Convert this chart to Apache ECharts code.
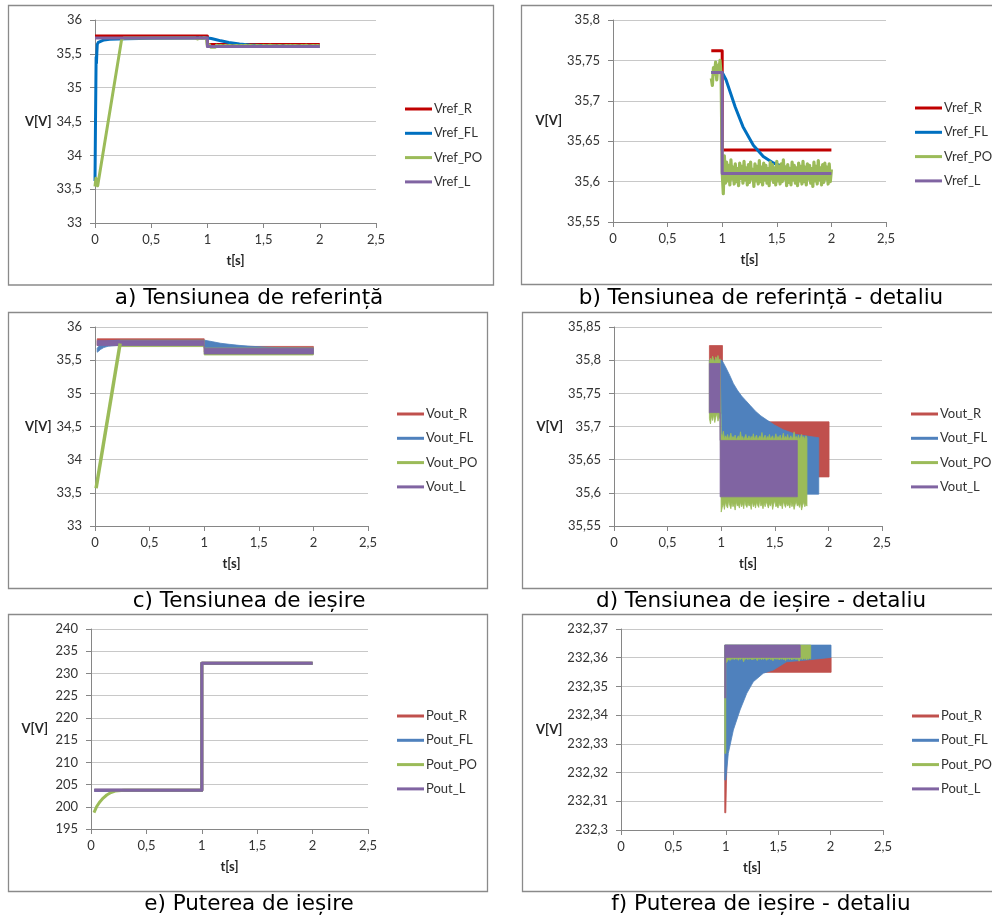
<!DOCTYPE html>
<html>
<head>
<meta charset="utf-8">
<title>Tensiuni și puteri</title>
<script src="https://cdn.jsdelivr.net/npm/echarts@6.0.0/dist/echarts.min.js"></script>
<style>
  html, body { margin: 0; padding: 0; background: #ffffff; }
  #chart { width: 992px; height: 919px; }
</style>
</head>
<body>
<div id="chart"></div>
<script>
// ---------- axis ranges [min, max, step] ----------
const T_RANGE = [0, 2.5, 0.5];
const VREF_RANGE = [33, 36, 0.5];
const VREF_DET_RANGE = [35.55, 35.8, 0.05];
const VOUT_RANGE = [33, 36, 0.5];
const VOUT_DET_RANGE = [35.55, 35.85, 0.05];
const POUT_RANGE = [195, 240, 5];
const POUT_DET_RANGE = [232.3, 232.37, 0.01];

// ---------- labels ----------
const CAPTIONS = [
  'a) Tensiunea de referință',
  'b) Tensiunea de referință - detaliu',
  'c) Tensiunea de ieșire',
  'd) Tensiunea de ieșire - detaliu',
  'e) Puterea de ieșire',
  'f) Puterea de ieșire - detaliu'
];
const VREF_NAMES = ['Vref_R', 'Vref_FL', 'Vref_PO', 'Vref_L'];
const VOUT_NAMES = ['Vout_R', 'Vout_FL', 'Vout_PO', 'Vout_L'];
const POUT_NAMES = ['Pout_R', 'Pout_FL', 'Pout_PO', 'Pout_L'];
const X_NAME = 't[s]';
const Y_NAME = 'V[V]';

// ---------- reference voltage (a, b) ----------
const vrefR_t = [0, 0.9, 1.0, 1.0, 2.0];
const vrefR_v = [35.762, 35.762, 35.762, 35.639, 35.639];

const vrefFL_t = [0, 0.005, 0.01, 0.013, 0.016, 0.02, 0.03, 0.045, 0.08, 0.13, 0.28, 0.5, 0.9, 1.0,
  1.035, 1.08, 1.12, 1.19, 1.285, 1.376, 1.468, 1.545, 1.6, 1.7, 1.8, 2.0];
const vrefFL_v = [33.62, 34.6, 35.45, 35.36, 35.5, 35.64, 35.67, 35.695, 35.705, 35.714, 35.722, 35.73, 35.735, 35.735,
  35.726, 35.708, 35.692, 35.668, 35.645, 35.631, 35.623, 35.619, 35.617, 35.614, 35.612, 35.611];

const vrefPO_rampT = [0, 0.008, 0.024, 0.237, 0.26, 0.89];
const vrefPO_rampV = [33.54, 33.66, 33.55, 35.714, 35.735, 35.735];
const VREF_PO_STEP = 0.01;
const vrefPO_preT0 = 0.90;   // 0.90 ... 0.99
const vrefPO_pre = [35.728, 35.719, 35.741, 35.733, 35.748, 35.726, 35.744, 35.737, 35.750, 35.731];
const vrefPO_postT0 = 1.00;  // 1.00 ... 2.00
const vrefPO_post = [
  35.612, 35.585, 35.632, 35.598, 35.624, 35.601, 35.620, 35.596, 35.627, 35.603,
  35.618, 35.597, 35.622, 35.600, 35.616, 35.595, 35.623, 35.604, 35.619, 35.598,
  35.625, 35.602, 35.617, 35.596, 35.621, 35.599, 35.624, 35.603, 35.615, 35.594,
  35.622, 35.601, 35.619, 35.597, 35.626, 35.600, 35.618, 35.596, 35.623, 35.602,
  35.620, 35.598, 35.616, 35.595, 35.624, 35.603, 35.621, 35.599, 35.617, 35.596,
  35.625, 35.601, 35.619, 35.597, 35.622, 35.600, 35.627, 35.603, 35.618, 35.595,
  35.621, 35.599, 35.616, 35.596, 35.624, 35.602, 35.620, 35.598, 35.617, 35.595,
  35.623, 35.601, 35.619, 35.597, 35.625, 35.600, 35.618, 35.596, 35.622, 35.603,
  35.620, 35.598, 35.616, 35.594, 35.624, 35.601, 35.619, 35.597, 35.626, 35.602,
  35.617, 35.596, 35.621, 35.599, 35.623, 35.603, 35.618, 35.597, 35.622, 35.600,
  35.615
];

const vrefL_t = [0, 0.9, 1.0, 1.0, 2.0];
const vrefL_v = [35.735, 35.735, 35.735, 35.61, 35.61];

const DETAIL_FROM = 0.9;

// ---------- output voltage, overview (c): envelopes [t, low, high] ----------
const voutR_c_t = [0.02, 1.0, 1.0, 2.0];
const voutR_c_lo = [35.72, 35.72, 35.624, 35.624];
const voutR_c_hi = [35.822, 35.822, 35.707, 35.707];

const voutFL_c_t = [0.02, 0.03, 0.05, 0.08, 0.12, 0.2, 1.0, 1.007, 1.08, 1.15, 1.23, 1.32, 1.424, 1.58, 1.7, 2.0];
const voutFL_c_lo = [35.62, 35.63, 35.66, 35.69, 35.71, 35.72, 35.72, 35.598, 35.598, 35.598, 35.598, 35.598, 35.598, 35.598, 35.598, 35.598];
const voutFL_c_hi = [35.68, 35.70, 35.74, 35.77, 35.79, 35.80, 35.80, 35.80, 35.777, 35.755, 35.739, 35.723, 35.71, 35.695, 35.688, 35.683];

const voutPO_c_rampT = [0.01, 0.23];
const voutPO_c_rampV = [33.57, 35.75];
const voutPO_c_t = [0.23, 1.0, 1.0, 2.0];
const voutPO_c_lo = [35.705, 35.705, 35.578, 35.578];
const voutPO_c_hi = [35.80, 35.80, 35.683, 35.683];

const voutL_c_t = [0.02, 1.0, 1.0, 2.0];
const voutL_c_lo = [35.721, 35.721, 35.594, 35.594];
const voutL_c_hi = [35.795, 35.795, 35.679, 35.679];

// ---------- output voltage, detail (d) ----------
const voutR_d_t = [0.89, 1.012, 1.012, 2.006];
const voutR_d_lo = [35.72, 35.72, 35.624, 35.624];
const voutR_d_hi = [35.822, 35.822, 35.707, 35.707];

const voutFL_d_t = [0.89, 1.0, 1.007, 1.04, 1.08, 1.113, 1.15, 1.19, 1.23, 1.269, 1.32, 1.37, 1.424, 1.50, 1.58, 1.70, 1.91];
const voutFL_d_lo = [35.72, 35.72, 35.598, 35.598, 35.598, 35.598, 35.598, 35.598, 35.598, 35.598, 35.598, 35.598, 35.598, 35.598, 35.598, 35.598, 35.598];
const voutFL_d_hi = [35.80, 35.80, 35.80, 35.790, 35.777, 35.765, 35.755, 35.746, 35.739, 35.732, 35.723, 35.716, 35.710, 35.702, 35.695, 35.688, 35.683];

const VOUT_PO_STEP = 0.01;
const voutPO_d_preT0 = 0.89;  // 0.89 ... 0.99
const voutPO_d_preHi = [35.798, 35.803, 35.799, 35.806, 35.801, 35.797, 35.805, 35.800, 35.807, 35.799, 35.802];
const voutPO_d_preLo = [35.712, 35.704, 35.716, 35.709, 35.718, 35.706, 35.714, 35.720, 35.708, 35.715, 35.711];
const voutPO_d_postT0 = 1.00; // 1.00 ... 1.80
const voutPO_d_postHi = [
  35.689, 35.684, 35.693, 35.681, 35.686, 35.682, 35.688, 35.680, 35.684, 35.690,
  35.681, 35.685, 35.682, 35.687, 35.680, 35.683, 35.686, 35.681, 35.692, 35.682,
  35.685, 35.680, 35.684, 35.688, 35.681, 35.683, 35.686, 35.680, 35.685, 35.682,
  35.689, 35.681, 35.684, 35.687, 35.680, 35.683, 35.686, 35.682, 35.691, 35.681,
  35.684, 35.687, 35.680, 35.685, 35.682, 35.688, 35.681, 35.684, 35.686, 35.680,
  35.683, 35.689, 35.681, 35.685, 35.682, 35.687, 35.680, 35.684, 35.690, 35.681,
  35.685, 35.682, 35.688, 35.680, 35.683, 35.686, 35.681, 35.684, 35.692, 35.682,
  35.685, 35.680, 35.687, 35.681, 35.684, 35.688, 35.682, 35.685, 35.680, 35.686,
  35.683
];
const voutPO_d_postLo = [
  35.571, 35.578, 35.584, 35.575, 35.586, 35.580, 35.577, 35.588, 35.581, 35.576,
  35.585, 35.579, 35.583, 35.574, 35.587, 35.580, 35.582, 35.577, 35.586, 35.579,
  35.584, 35.576, 35.588, 35.581, 35.578, 35.585, 35.580, 35.583, 35.575, 35.587,
  35.579, 35.584, 35.577, 35.586, 35.581, 35.578, 35.589, 35.580, 35.583, 35.576,
  35.585, 35.579, 35.587, 35.582, 35.577, 35.584, 35.580, 35.586, 35.575, 35.583,
  35.588, 35.579, 35.581, 35.577, 35.585, 35.580, 35.584, 35.576, 35.587, 35.582,
  35.578, 35.585, 35.580, 35.583, 35.577, 35.586, 35.579, 35.584, 35.575, 35.582,
  35.587, 35.580, 35.583, 35.578, 35.585, 35.574, 35.581, 35.586, 35.579, 35.583,
  35.580
];

const voutL_d_t = [0.89, 0.99, 0.99, 1.71];
const voutL_d_lo = [35.721, 35.721, 35.594, 35.594];
const voutL_d_hi = [35.795, 35.795, 35.679, 35.679];

// ---------- output power, overview (e) ----------
const pout_e_t = [0.03, 1.0, 1.0, 2.0];
const poutR_e_v = [203.7, 203.7, 232.3, 232.3];
const poutFL_e_v = [203.7, 203.7, 232.3, 232.3];
const poutL_e_v = [203.7, 203.7, 232.3, 232.3];
const poutPO_e_t = [0.027, 0.05, 0.081, 0.11, 0.142, 0.18, 0.217, 0.3, 1.0, 1.0, 2.0];
const poutPO_e_v = [198.7, 200.0, 201.15, 201.95, 202.65, 203.2, 203.55, 203.7, 203.7, 232.3, 232.3];

// ---------- output power, detail (f) ----------
const poutR_f_t = [0.99, 1.0, 1.02, 1.05, 1.3, 2.005];
const poutR_f_lo = [232.306, 232.306, 232.34, 232.352, 232.3549, 232.3549];
const poutR_f_hi = [232.3175, 232.34, 232.3595, 232.3595, 232.3601, 232.3601];

const poutFL_f_t = [0.99, 1.0, 1.024, 1.072, 1.136, 1.2, 1.262, 1.358, 1.453, 1.58, 1.772, 2.004];
const poutFL_f_lo = [232.3174, 232.3174, 232.3267, 232.3348, 232.3418, 232.3476, 232.3516, 232.3546, 232.3557, 232.3586, 232.3592, 232.3601];
const poutFL_f_hi = [232.3644, 232.3644, 232.3644, 232.3644, 232.3644, 232.3644, 232.3644, 232.3644, 232.3644, 232.3644, 232.3644, 232.3644];

const poutPO_f_colT = [0.99, 1.0];
const poutPO_f_colLo = [232.3267, 232.3267];
const poutPO_f_hi = 232.3644;
const POUT_PO_STEP = 0.01;
const poutPO_f_T0 = 1.00;    // 1.00 ... 1.81
const poutPO_f_lo = [
  232.3580, 232.3585, 232.3592, 232.3596, 232.3590, 232.3597, 232.3594, 232.3598, 232.3593, 232.3597,
  232.3595, 232.3598, 232.3591, 232.3597, 232.3594, 232.3598, 232.3596, 232.3586, 232.3597, 232.3595,
  232.3598, 232.3593, 232.3597, 232.3595, 232.3598, 232.3592, 232.3597, 232.3594, 232.3598, 232.3596,
  232.3590, 232.3597, 232.3595, 232.3598, 232.3593, 232.3597, 232.3594, 232.3598, 232.3596, 232.3591,
  232.3597, 232.3595, 232.3598, 232.3593, 232.3597, 232.3589, 232.3598, 232.3595, 232.3597, 232.3594,
  232.3598, 232.3592, 232.3597, 232.3595, 232.3598, 232.3593, 232.3597, 232.3590, 232.3598, 232.3595,
  232.3597, 232.3594, 232.3598, 232.3592, 232.3597, 232.3595, 232.3598, 232.3593, 232.3597, 232.3594,
  232.3588, 232.3596, 232.3598, 232.3593, 232.3597, 232.3595, 232.3598, 232.3592, 232.3597, 232.3595,
  232.3598, 232.3596
];

const poutL_f_t = [0.99, 1.0, 1.0, 1.71];
const poutL_f_lo = [232.346, 232.346, 232.3601, 232.3601];
const poutL_f_hi = [232.3644, 232.3644, 232.3644, 232.3644];

// ---------- colours ----------
const C_REF = { R: '#C00000', FL: '#0070C0', PO: '#9BBB59', L: '#8064A2' };
const C_OUT = { R: '#C0504D', FL: '#4F81BD', PO: '#9BBB59', L: '#8064A2' };

// ---------- helpers ----------
const r3 = x => Math.round(x * 1000) / 1000;
const pairs = (t, v) => t.map((x, i) => [x, v[i]]);
const sampled = (t0, dt, v) => v.map((y, i) => [r3(t0 + i * dt), y]);
const envelope = (t, lo, hi) => t.map((x, i) => [x, lo[i], hi[i]]);
const sampledEnvelope = (t0, dt, lo, hi) =>
  lo.map((y, i) => [r3(t0 + i * dt), y, Array.isArray(hi) ? hi[i] : hi]);
const fromTime = (pts, t0) => pts.filter(p => p[0] >= t0 - 1e-9);
const fmt = v => String(Number(v.toFixed(4))).replace('.', ',');

const TICK_FONT = 'Lato';
const CAPTION_FONT = '"DejaVu Sans"';
const AXIS_COLOR = '#868686';
const GRID_COLOR = '#c8c8c8';
const TEXT_COLOR = '#333333';

function lineSeries(name, color, data, gi, width) {
  return {
    type: 'line', name: name, xAxisIndex: gi, yAxisIndex: gi,
    data: data, showSymbol: false, symbol: 'none', silent: true,
    lineStyle: { color: color, width: width || 3, join: 'round', cap: 'butt' },
    itemStyle: { color: color },
    emphasis: { disabled: true }
  };
}

// filled band between a lower and an upper trace
function bandSeries(name, color, rows, gi) {
  return {
    type: 'custom', name: name, xAxisIndex: gi, yAxisIndex: gi,
    data: rows, encode: { x: 0, y: [1, 2] }, silent: true, clip: true,
    itemStyle: { color: color },
    renderItem: function (params, api) {
      if (params.dataIndex !== 0) return null;
      const upper = rows.map(r => api.coord([r[0], r[2]]));
      const lower = rows.map(r => api.coord([r[0], r[1]])).reverse();
      return {
        type: 'polygon',
        shape: { points: upper.concat(lower) },
        style: { fill: color, stroke: color, lineWidth: 0.8 }
      };
    }
  };
}

// ---------- panel layout ----------
const grids = [
  { left: 95, top: 20, width: 281, height: 203 },
  { left: 613, top: 20, width: 273, height: 202 },
  { left: 95, top: 327, width: 273, height: 199 },
  { left: 614, top: 327, width: 268, height: 199 },
  { left: 91, top: 629, width: 277, height: 200 },
  { left: 621, top: 629, width: 262, height: 201 }
];
const yRanges = [VREF_RANGE, VREF_DET_RANGE, VOUT_RANGE, VOUT_DET_RANGE, POUT_RANGE, POUT_DET_RANGE];
const legendPos = [
  { left: 405, top: 102 }, { left: 915, top: 101 },
  { left: 397, top: 407 }, { left: 911, top: 407 },
  { left: 397, top: 709 }, { left: 912, top: 709 }
];
const legendNames = [VREF_NAMES, VREF_NAMES, VOUT_NAMES, VOUT_NAMES, POUT_NAMES, POUT_NAMES];
const frames = [
  [8.5, 5.5, 485, 279.5], [521.5, 5.5, 475, 279],
  [8.5, 312.5, 479, 276], [522.5, 312.5, 475, 276],
  [8.5, 614.5, 479, 277], [522.5, 614.5, 475, 277]
];
const captionPos = [[249, 298], [761, 298], [249, 601], [761, 601], [249, 904], [761, 904]];

const xAxes = grids.map((g, i) => ({
  type: 'value', gridIndex: i,
  min: T_RANGE[0], max: T_RANGE[1], interval: T_RANGE[2],
  name: X_NAME, nameLocation: 'middle', nameGap: 31,
  nameTextStyle: { fontFamily: TICK_FONT, fontSize: 13, fontWeight: 'bold', color: '#262626' },
  axisLine: { show: true, onZero: false, lineStyle: { color: AXIS_COLOR, width: 1 } },
  axisTick: { show: true, inside: false, length: 5, lineStyle: { color: AXIS_COLOR } },
  axisLabel: { formatter: fmt, fontFamily: TICK_FONT, fontSize: 13, color: TEXT_COLOR, margin: 10 },
  splitLine: { show: false }
}));

const yAxes = grids.map((g, i) => ({
  type: 'value', gridIndex: i,
  min: yRanges[i][0], max: yRanges[i][1], interval: yRanges[i][2],
  name: Y_NAME, nameLocation: 'middle', nameRotate: 0, nameGap: 43,
  nameTextStyle: { fontFamily: TICK_FONT, fontSize: 13, fontWeight: 'bold', color: '#262626' },
  axisLine: { show: true, lineStyle: { color: AXIS_COLOR, width: 1 } },
  axisTick: { show: true, inside: false, length: 5, lineStyle: { color: AXIS_COLOR } },
  axisLabel: { formatter: fmt, fontFamily: TICK_FONT, fontSize: 13, color: TEXT_COLOR, margin: 13 },
  splitLine: { show: true, lineStyle: { color: GRID_COLOR, width: 1 } }
}));

const legends = legendPos.map((p, i) => ({
  show: true, orient: 'vertical', left: p.left, top: p.top, padding: 0,
  data: legendNames[i], icon: 'rect', itemWidth: 27, itemHeight: 3, itemGap: 10.3,
  selectedMode: false,
  textStyle: { fontFamily: TICK_FONT, fontSize: 13, color: TEXT_COLOR, lineHeight: 14, padding: [0, 0, 0, -3] }
}));

// ---------- series ----------
const vrefPO_all = pairs(vrefPO_rampT, vrefPO_rampV)
  .concat(sampled(vrefPO_preT0, VREF_PO_STEP, vrefPO_pre))
  .concat(sampled(vrefPO_postT0, VREF_PO_STEP, vrefPO_post));
const vrefR_all = pairs(vrefR_t, vrefR_v);
const vrefFL_all = pairs(vrefFL_t, vrefFL_v);
const vrefL_all = pairs(vrefL_t, vrefL_v);

const series = [
  // a)
  lineSeries('Vref_R', C_REF.R, vrefR_all, 0),
  lineSeries('Vref_FL', C_REF.FL, vrefFL_all, 0),
  lineSeries('Vref_PO', C_REF.PO, vrefPO_all, 0),
  lineSeries('Vref_L', C_REF.L, vrefL_all, 0),
  // b)
  lineSeries('Vref_R', C_REF.R, fromTime(vrefR_all, DETAIL_FROM), 1),
  lineSeries('Vref_FL', C_REF.FL, fromTime(vrefFL_all, DETAIL_FROM), 1),
  lineSeries('Vref_PO', C_REF.PO, fromTime(vrefPO_all, DETAIL_FROM), 1, 3.2),
  lineSeries('Vref_L', C_REF.L, fromTime(vrefL_all, DETAIL_FROM), 1),
  // c)
  bandSeries('Vout_R', C_OUT.R, envelope(voutR_c_t, voutR_c_lo, voutR_c_hi), 2),
  bandSeries('Vout_FL', C_OUT.FL, envelope(voutFL_c_t, voutFL_c_lo, voutFL_c_hi), 2),
  lineSeries('Vout_PO', C_OUT.PO, pairs(voutPO_c_rampT, voutPO_c_rampV), 2, 3.5),
  bandSeries('Vout_PO', C_OUT.PO, envelope(voutPO_c_t, voutPO_c_lo, voutPO_c_hi), 2),
  bandSeries('Vout_L', C_OUT.L, envelope(voutL_c_t, voutL_c_lo, voutL_c_hi), 2),
  // d)
  bandSeries('Vout_R', C_OUT.R, envelope(voutR_d_t, voutR_d_lo, voutR_d_hi), 3),
  bandSeries('Vout_FL', C_OUT.FL, envelope(voutFL_d_t, voutFL_d_lo, voutFL_d_hi), 3),
  bandSeries('Vout_PO', C_OUT.PO,
    sampledEnvelope(voutPO_d_preT0, VOUT_PO_STEP, voutPO_d_preLo, voutPO_d_preHi)
      .concat(sampledEnvelope(voutPO_d_postT0, VOUT_PO_STEP, voutPO_d_postLo, voutPO_d_postHi)), 3),
  bandSeries('Vout_L', C_OUT.L, envelope(voutL_d_t, voutL_d_lo, voutL_d_hi), 3),
  // e)
  lineSeries('Pout_R', C_OUT.R, pairs(pout_e_t, poutR_e_v), 4),
  lineSeries('Pout_FL', C_OUT.FL, pairs(pout_e_t, poutFL_e_v), 4),
  lineSeries('Pout_PO', C_OUT.PO, pairs(poutPO_e_t, poutPO_e_v), 4),
  lineSeries('Pout_L', C_OUT.L, pairs(pout_e_t, poutL_e_v), 4),
  // f)
  bandSeries('Pout_R', C_OUT.R, envelope(poutR_f_t, poutR_f_lo, poutR_f_hi), 5),
  bandSeries('Pout_FL', C_OUT.FL, envelope(poutFL_f_t, poutFL_f_lo, poutFL_f_hi), 5),
  bandSeries('Pout_PO', C_OUT.PO,
    envelope(poutPO_f_colT, poutPO_f_colLo, poutPO_f_colT.map(() => poutPO_f_hi))
      .concat(sampledEnvelope(poutPO_f_T0, POUT_PO_STEP, poutPO_f_lo, poutPO_f_hi)), 5),
  bandSeries('Pout_L', C_OUT.L, envelope(poutL_f_t, poutL_f_lo, poutL_f_hi), 5)
];

// ---------- frames and captions ----------
const graphics = [];
frames.forEach(f => graphics.push({
  type: 'rect', silent: true, z: -1,
  shape: { x: f[0], y: f[1], width: f[2], height: f[3] },
  style: { fill: '#ffffff', stroke: '#8a8a8a', lineWidth: 1.3 }
}));
CAPTIONS.forEach((c, i) => graphics.push({
  type: 'text', silent: true, x: captionPos[i][0], y: captionPos[i][1],
  style: {
    text: c, fill: '#000000', font: '21.5px ' + CAPTION_FONT,
    align: 'center', verticalAlign: 'middle', textAlign: 'center', textVerticalAlign: 'middle'
  }
}));

const chart = echarts.init(document.getElementById('chart'), null, { renderer: 'canvas' });
chart.setOption({
  animation: false,
  backgroundColor: '#ffffff',
  grid: grids,
  xAxis: xAxes,
  yAxis: yAxes,
  legend: legends,
  graphic: graphics,
  series: series
});
</script>
</body>
</html>
